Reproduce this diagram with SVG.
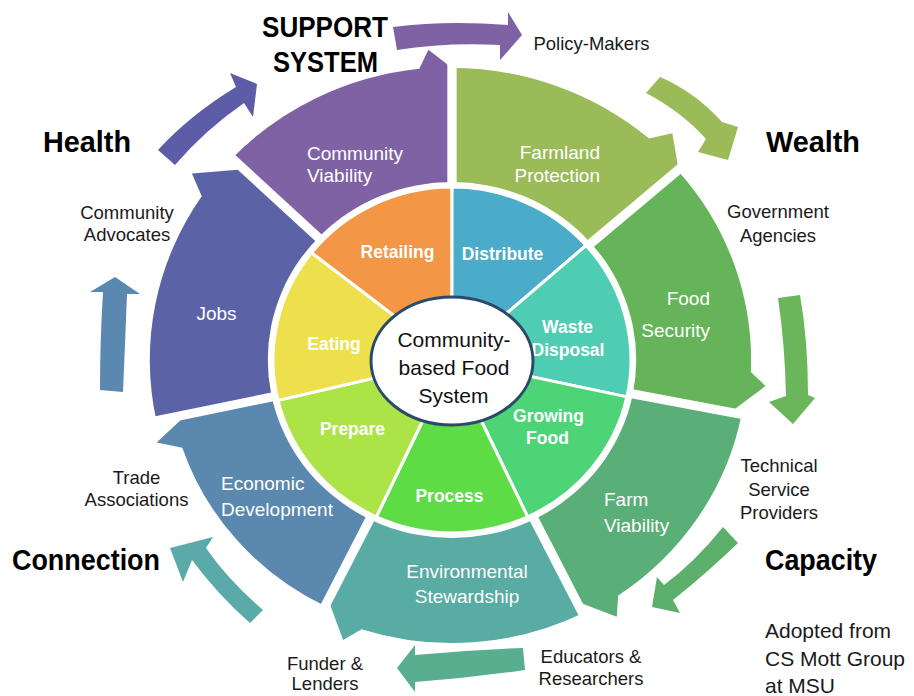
<svg xmlns="http://www.w3.org/2000/svg" width="914" height="696" viewBox="0 0 914 696">
<style>
text{font-family:"Liberation Sans",Arial,sans-serif}
.lbl{font-size:18.5px;fill:#1a1a1a;text-anchor:middle}
.ttl{font-size:29px;font-weight:bold;fill:#000}
.w{font-size:19px;fill:#fff}
.in{font-size:17.5px;font-weight:bold;fill:#fff;text-anchor:middle}
.ctr{font-size:21px;fill:#111;text-anchor:middle}
.gap{stroke:#fff;stroke-width:9;fill:none}
.isec{stroke:#fff;stroke-width:3}
</style>
<rect width="914" height="696" fill="#fff"/>

<g id="outer-ring">
<g id="n-farmland"><path transform="matrix(1.035,0,0,1,452,360)" fill="#9BBB59" d="M0,-165 L0,-292 A292,292 0 0 1 190.4,-221.4 L212.9,-226.7 L218.9,-190.3 L124.5,-108.3 A165,165 0 0 0 0,-165 Z"/>
<text class="w" text-anchor="end"><tspan x="600" y="159">Farmland</tspan><tspan x="600" y="182">Protection</tspan></text></g>
<g id="n-foodsec"><path transform="matrix(1.035,0,0,1,452,360)" fill="#66B45A" d="M124.5,-108.3 L218.1,-189.6 A289,289 0 0 1 288.7,12.1 L302.9,26.0 L269.0,52.3 L162.0,31.5 A165,165 0 0 0 124.5,-108.3 Z"/>
<text class="w" text-anchor="end"><tspan x="710" y="305">Food</tspan><tspan x="710" y="337">Security</tspan></text></g>
<g id="n-farmvia"><path transform="matrix(1.035,0,0,1,452,360)" fill="#5AAE78" d="M162.0,31.5 L279.8,54.4 A285,285 0 0 1 160.6,235.4 L159.2,256.7 L120.5,241.6 L73.6,147.7 A165,165 0 0 0 162.0,31.5 Z"/>
<text class="w"><tspan x="604" y="506">Farm</tspan><tspan x="604" y="532">Viability</tspan></text></g>
<g id="n-envstew"><path transform="matrix(1.035,0,0,1,452,360)" fill="#58ACA3" d="M73.6,147.7 L126.3,253.3 A283,283 0 0 1 -87.4,269.2 L-105.2,279.9 L-119.6,239.8 L-73.6,147.7 A165,165 0 0 0 73.6,147.7 Z"/>
<text class="w" text-anchor="middle"><tspan x="467" y="578">Environmental</tspan><tspan x="467" y="603">Stewardship</tspan></text></g>
<g id="n-econdev"><path transform="matrix(1.035,0,0,1,452,360)" fill="#5A88AE" d="M-73.6,147.7 L-122.7,246.1 A275,275 0 0 1 -260.6,87.7 L-285.4,82.4 L-256.3,54.5 L-161.4,34.3 A165,165 0 0 0 -73.6,147.7 Z"/>
<text class="w"><tspan x="221" y="490">Economic</tspan><tspan x="221" y="516">Development</tspan></text></g>
<g id="n-jobs"><path transform="matrix(1.035,0,0,1,452,360)" fill="#5B62A6" d="M-161.4,34.3 L-285.6,60.7 A292,292 0 0 1 -241.8,-163.7 L-251.3,-186.6 L-200.9,-190.7 L-119.7,-113.6 A165,165 0 0 0 -161.4,34.3 Z"/>
<text class="w" text-anchor="middle" x="216.5" y="320">Jobs</text></g>
<g id="n-commvia"><path transform="matrix(1.035,0,0,1,452,360)" fill="#7F62A3" d="M-119.7,-113.6 L-212.5,-201.7 A293,293 0 0 1 -31.6,-291.3 L-22.8,-310.2 L0,-292 L0,-165 A165,165 0 0 0 -119.7,-113.6 Z"/>
<text class="w"><tspan x="307" y="160">Community</tspan><tspan x="307" y="182">Viability</tspan></text></g>
</g>

<g id="gaps" transform="matrix(1.035,0,0,1,452,360)" class="gap">
<line x1="0" y1="-160" x2="0" y2="-320"/>
<line x1="120.8" y1="-105.0" x2="241.5" y2="-210.0"/>
<line x1="157.1" y1="30.5" x2="314.1" y2="61.1"/>
<line x1="71.4" y1="143.2" x2="142.8" y2="286.4"/>
<line x1="-71.4" y1="143.2" x2="-142.8" y2="286.4"/>
<line x1="-156.5" y1="33.3" x2="-313.0" y2="66.5"/>
<line x1="-116.1" y1="-110.1" x2="-232.1" y2="-220.3"/>
</g>

<g id="inner-ring">
<circle transform="matrix(1.035,0,0,1,452,360)" r="178" fill="#fff"/>
<g id="n-retailing"><path transform="matrix(1.035,0,0,1,452,360)" class="isec" fill="#F39646" d="M0,0 L-135.8,-107.2 A173,173 0 0 1 0,-173 Z"/><text class="in" x="397.5" y="258">Retailing</text></g>
<g id="n-distribute"><path transform="matrix(1.035,0,0,1,452,360)" class="isec" fill="#4AACC8" d="M0,0 L0,-173 A173,173 0 0 1 129.6,-114.6 Z"/><text class="in" x="502.5" y="260">Distribute</text></g>
<g id="n-waste"><path transform="matrix(1.035,0,0,1,452,360)" class="isec" fill="#4ECDB3" d="M0,0 L129.6,-114.6 A173,173 0 0 1 169.0,36.9 Z"/><text class="in"><tspan x="567.5" y="333">Waste</tspan><tspan x="568" y="356">Disposal</tspan></text></g>
<g id="n-growing"><path transform="matrix(1.035,0,0,1,452,360)" class="isec" fill="#4DD477" d="M0,0 L169.0,36.9 A173,173 0 0 1 73.1,156.8 Z"/><text class="in"><tspan x="548.5" y="422">Growing</tspan><tspan x="547.5" y="444">Food</tspan></text></g>
<g id="n-process"><path transform="matrix(1.035,0,0,1,452,360)" class="isec" fill="#5EDC45" d="M0,0 L73.1,156.8 A173,173 0 0 1 -73.1,156.8 Z"/><text class="in" x="449.5" y="502">Process</text></g>
<g id="n-prepare"><path transform="matrix(1.035,0,0,1,452,360)" class="isec" fill="#ACE447" d="M0,0 L-73.1,156.8 A173,173 0 0 1 -168.2,40.4 Z"/><text class="in" x="352.5" y="435">Prepare</text></g>
<g id="n-eating"><path transform="matrix(1.035,0,0,1,452,360)" class="isec" fill="#EEE04C" d="M0,0 L-168.2,40.4 A173,173 0 0 1 -135.8,-107.2 Z"/><text class="in" x="334" y="350">Eating</text></g>
</g>

<g id="n-center">
<ellipse cx="452" cy="361" rx="81" ry="64" fill="#fff" stroke="#2A4A6B" stroke-width="3"/>
<text class="ctr"><tspan x="454" y="347">Community-</tspan><tspan x="454" y="375">based Food</tspan><tspan x="453.5" y="403">System</tspan></text>
</g>

<g id="connectors">
<path fill="#7F62A3" d="M393,27 Q447,20 508,25 L508,12 L522,35 L500,60 L500,45 Q447,42 397,50 Z"/>
<path fill="#9BBB59" d="M660,77 Q695,92 722,122 L738,127 L728,160 L698,152 L706,139 Q682,112 646,93 Z"/>
<path fill="#6BB55B" d="M778,298 L800,295 Q808,340 808,395 L815,398 L793,424 L769,402 L786,396 Q785,345 778,298 Z"/>
<path fill="#5DB06C" d="M723,527 Q695,562 664,585 L657,577 L652,607 L680,613 L673,600 Q708,572 738,543 Z"/>
<path fill="#58AE8E" d="M523,648 Q470,650 415,655 L415,645 L397,668 L415,692 L415,682 Q470,678 525,670 Z"/>
<path fill="#5AAAAA" d="M263,610 Q228,580 206,548 L213,537 L170,548 L183,582 L192,560 Q218,595 250,623 Z"/>
<path fill="#5B88B0" d="M103,292 L90,292 L115,277 L140,294 L127,294 Q125,345 123,392 L100,390 Q100,340 103,292 Z"/>
<path fill="#5C5CA7" d="M158,150 Q190,115 236,87 L230,73 L257,84 L253,117 L244,103 Q205,130 175,165 Z"/>
</g>

<g id="labels">
<text class="ttl" x="262" y="37" textLength="126" lengthAdjust="spacingAndGlyphs">SUPPORT</text>
<text class="ttl" x="273" y="72" textLength="105" lengthAdjust="spacingAndGlyphs">SYSTEM</text>
<text class="ttl" x="43" y="152" textLength="88" lengthAdjust="spacingAndGlyphs">Health</text>
<text class="ttl" x="766" y="152" textLength="94" lengthAdjust="spacingAndGlyphs">Wealth</text>
<text class="ttl" x="765" y="570" textLength="112" lengthAdjust="spacingAndGlyphs">Capacity</text>
<text class="ttl" x="12" y="570" textLength="148" lengthAdjust="spacingAndGlyphs">Connection</text>
<text class="lbl" x="591.5" y="50">Policy-Makers</text>
<text class="lbl"><tspan x="127" y="219">Community</tspan><tspan x="127" y="241">Advocates</tspan></text>
<text class="lbl"><tspan x="778" y="218">Government</tspan><tspan x="778" y="242">Agencies</tspan></text>
<text class="lbl"><tspan x="779" y="472">Technical</tspan><tspan x="779" y="496">Service</tspan><tspan x="779" y="519">Providers</tspan></text>
<text class="lbl"><tspan x="136.5" y="484">Trade</tspan><tspan x="136.5" y="506">Associations</tspan></text>
<text class="lbl"><tspan x="325" y="670">Funder &amp;</tspan><tspan x="325" y="690">Lenders</tspan></text>
<text class="lbl"><tspan x="591" y="663">Educators &amp;</tspan><tspan x="591" y="685">Researchers</tspan></text>
<text style="font-size:21px;fill:#1a1a1a"><tspan x="765" y="638">Adopted from</tspan><tspan x="765" y="666">CS Mott Group</tspan><tspan x="765" y="693">at MSU</tspan></text>
</g>
</svg>
